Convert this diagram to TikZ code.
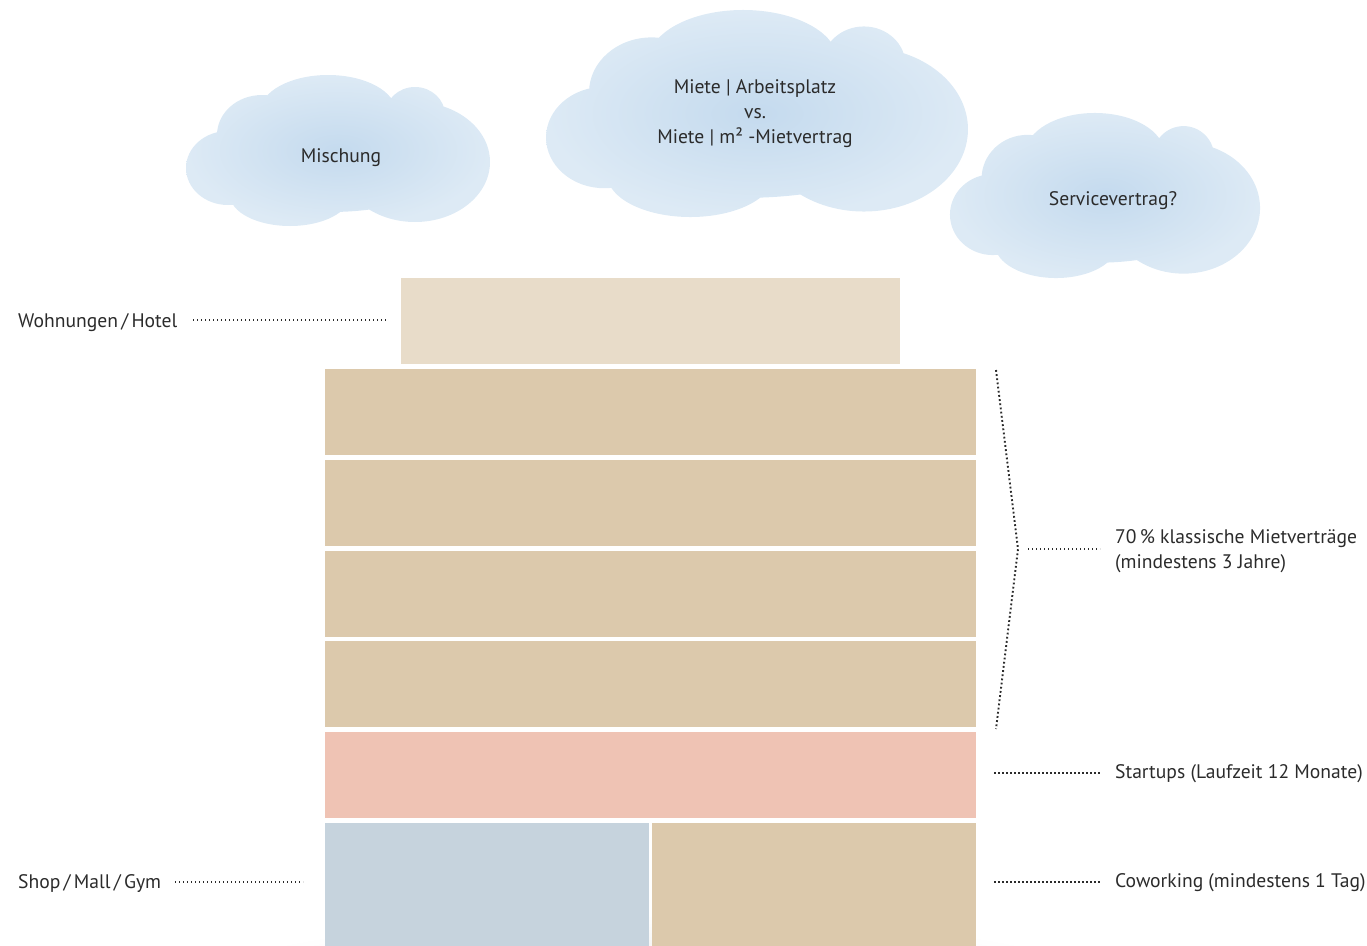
\documentclass[tikz,border=0pt]{standalone}
\usepackage{fontspec}
\setmainfont{PT Sans}
\definecolor{topbox}{HTML}{E8DCC9}
\definecolor{beige}{HTML}{DCC9AC}
\definecolor{pinkbox}{HTML}{EFC3B4}
\definecolor{bluebox}{HTML}{C6D3DD}
\definecolor{cloudin}{HTML}{C4DAEE}
\definecolor{cloudout}{HTML}{DDEAF5}
\definecolor{txt}{HTML}{2B2B2B}
\tikzset{
  block/.style={draw=none, inner sep=0pt, anchor=north west},
  lbl/.style={inner sep=0pt, text=txt, font=\fontsize{19.6}{25}\selectfont},
  dotline/.style={draw=txt, line width=1.5pt, dash pattern=on 1.4pt off 2.6pt},
  bracketline/.style={draw=txt, line width=1.9pt, dash pattern=on 1.8pt off 2.4pt},
  cloudpic/.pic={
    \shade[inner color=cloudin, outer color=cloudout]
      (-8,9.5) ellipse [x radius=130, y radius=52]
      (-110,17.5) ellipse [x radius=42, y radius=37]
      (-76,-15.5) ellipse [x radius=45, y radius=40]
      (-10,-38.5) ellipse [x radius=68, y radius=37]
      (77,-35.5) ellipse [x radius=30, y radius=28]
      (77,11.5) ellipse [x radius=75, y radius=60]
      (-48,44.5) ellipse [x radius=60, y radius=31];
  }
}
\begin{document}
\begin{tikzpicture}[x=1pt,y=-1pt]
\useasboundingbox (0,0) rectangle (1367,945);
\begin{scope}
  \clip (0,0) rectangle (1367,945);
  \shade[inner color=black!9, outer color=white] (650,990) ellipse [x radius=470, y radius=75];
\end{scope}

% clouds
\pic at (338,150.5) {cloudpic};
\pic[xscale=1.388, yscale=1.371] at (757,113.5) {cloudpic};
\pic[xscale=1.02, yscale=1.093] at (1105,195.5) {cloudpic};
\node[lbl, anchor=base] (mix) at (341,162) {Mischung};
\node[lbl, anchor=center, align=center] (miete) at (755,114) {Miete | Arbeitsplatz\\vs.\\Miete | m² -Mietvertrag};
\node[lbl, anchor=base] (serv) at (1113,205) {Servicevertrag?};

% building
\node[block, fill=topbox, minimum width=499, minimum height=86] (top) at (401,278) {};
\node[block, fill=beige, minimum width=651, minimum height=86] (f1) at (325,369) {};
\node[block, fill=beige, minimum width=651, minimum height=86] (f2) at (325,460) {};
\node[block, fill=beige, minimum width=651, minimum height=86] (f3) at (325,551) {};
\node[block, fill=beige, minimum width=651, minimum height=86] (f4) at (325,641) {};
\node[block, fill=pinkbox, minimum width=651, minimum height=86] (start) at (325,732) {};
\node[block, fill=bluebox, minimum width=324, minimum height=125] (shop) at (325,823) {};
\node[block, fill=beige, minimum width=324, minimum height=125] (cowork) at (652,823) {};

% labels
\node[lbl, anchor=base west] (wl) at (18,327) {Wohnungen\,/\,Hotel};
\node[lbl, anchor=base west] (sl) at (18,888) {Shop\,/\,Mall\,/\,Gym};
\node[lbl, anchor=base west] (kl1) at (1115,543) {70\,\% klassische Mietverträge};
\node[lbl, anchor=base west] (kl2) at (1115,568) {(mindestens 3 Jahre)};
\node[lbl, anchor=base west] (stl) at (1115,778) {Startups (Laufzeit 12 Monate)};
\node[lbl, anchor=base west] (col) at (1115,887) {Coworking (mindestens 1 Tag)};

% connectors
\coordinate (wstart) at (193,320);
\draw[dotline, shorten >=14pt] (wstart) -- (wstart -| top.west);
\coordinate (sstart) at (175,882);
\draw[dotline, shorten >=22pt] (sstart) -- (sstart -| shop.west);
\coordinate (bt) at (996,370);
\coordinate (tip) at (1018,549);
\coordinate (bb) at (996,729);
\draw[bracketline] (bt) -- (tip) -- (bb);
\coordinate (kend) at (1100,549);
\draw[dotline, shorten <=10pt] (tip) -- (kend);
\coordinate (stend) at (1100,773);
\draw[dotline, shorten <=18pt] (stend -| start.east) -- (stend);
\coordinate (coend) at (1100,882);
\draw[dotline, shorten <=18pt] (coend -| cowork.east) -- (coend);
\end{tikzpicture}
\end{document}
